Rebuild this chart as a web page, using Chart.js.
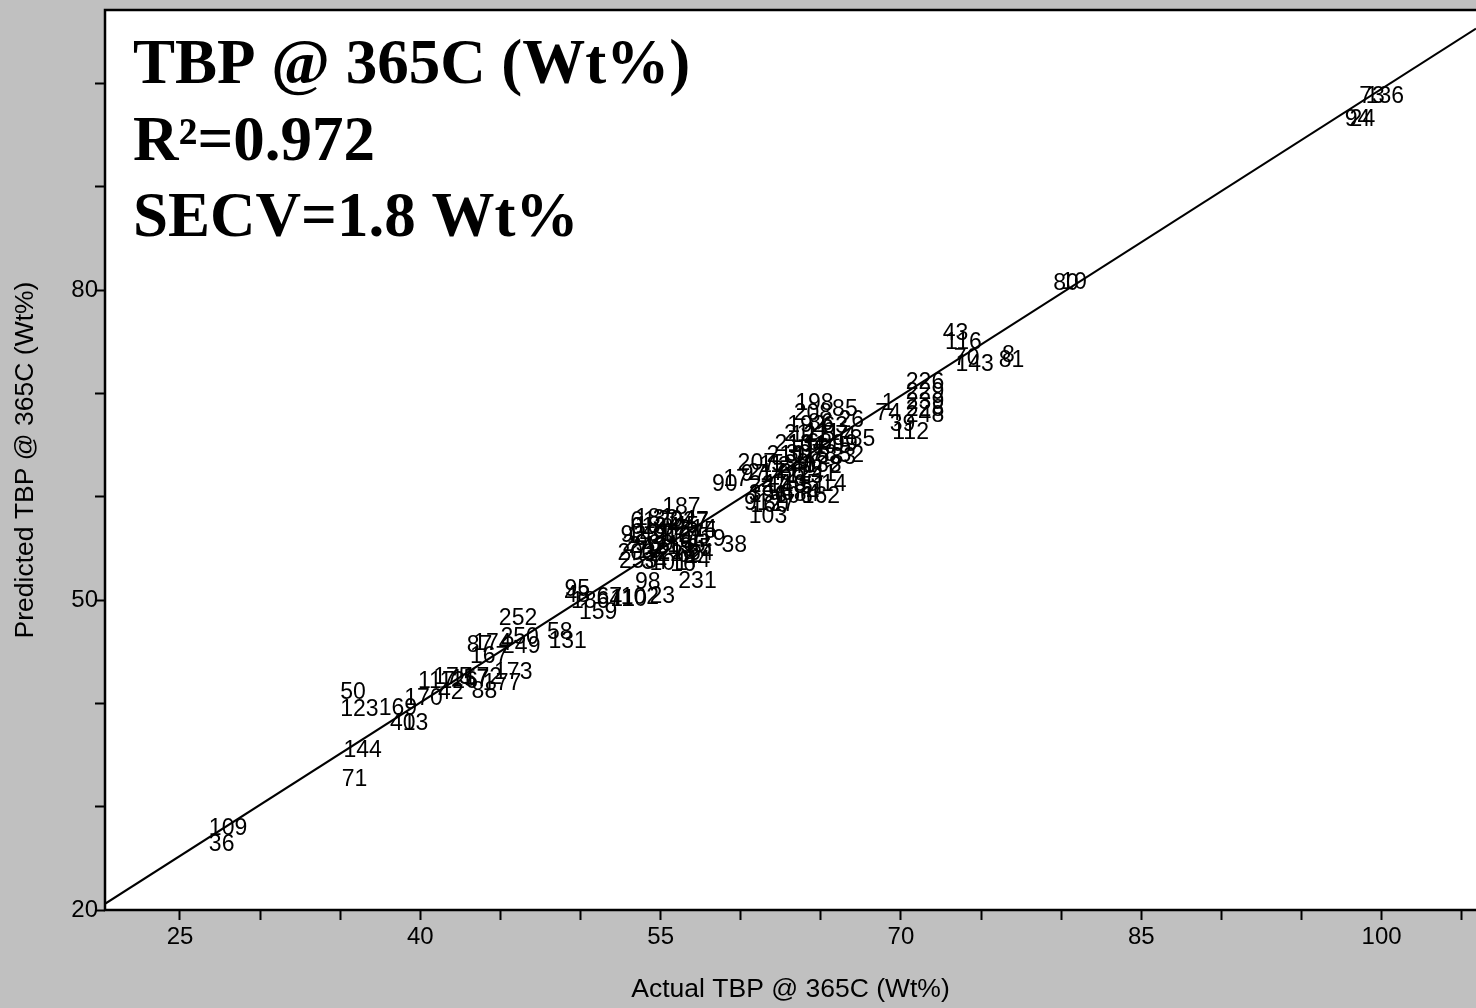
<!DOCTYPE html>
<html>
<head>
<meta charset="utf-8">
<title>TBP @ 365C</title>
<script src="https://cdn.jsdelivr.net/npm/chart.js@4.4.1/dist/chart.umd.min.js"></script>
<style>
  html, body { margin: 0; padding: 0; background: #c0c0c0; }
  #wrap { width: 1476px; height: 1008px; }
</style>
</head>
<body>
<div id="wrap"><canvas id="chart" width="1476" height="1008"></canvas></div>
<script>
// sample numbers, actual (lab) and predicted (cross-validated) TBP @ 365C, Wt%
const SAMPLE_IDS = [
  "109", "36", "71", "144", "50", "123", "169", "40", "13",
  "170", "42", "117", "175", "126", "157", "172", "173", "177", "88", "167", "87", "174", "249", "250", "252", "58", "131",
  "95", "48", "186", "67", "159", "41", "110", "102", "23", "98", "231", "38", "187",
  "61", "181", "33", "204", "227", "7",
  "6", "18", "134", "82", "45", "214", "5",
  "92", "149", "31", "200", "127", "75", "119",
  "29", "242", "60", "219", "155", "65",
  "203", "19", "122", "218", "62", "64",
  "253", "34", "101", "16", "44",
  "103", "162", "14", "90", "17", "198", "208", "85", "26", "35", "52",
  "192", "86", "63",
  "21", "121", "111", "57", "4",
  "213", "104", "68", "145", "99",
  "210", "30", "115", "78", "233",
  "207", "11", "53", "240", "96", "138", "2",
  "97", "217", "142", "66", "113", "241",
  "22", "47", "148", "105", "51",
  "3", "196", "56", "106", "84",
  "91", "160", "27",
  "1", "74", "39", "112", "226", "229", "239", "228", "248",
  "43", "116", "70", "143", "8", "81", "80", "10", "73", "136", "94", "24"
]
const ACTUAL = [
  28.0, 27.6, 35.9, 36.4, 35.8, 36.2, 38.6, 38.9, 39.7,
  40.2, 41.9, 41.0, 42.0, 42.4, 43.1, 43.9, 45.8, 45.1, 44.0, 44.3, 43.7, 44.5, 46.3, 46.2, 46.1, 48.7, 49.2,
  49.8, 49.8, 50.6, 51.8, 51.1, 52.6, 53.0, 53.7, 55.1, 54.2, 57.3, 59.6, 56.3,
  53.9, 54.6, 55.3, 56.0, 56.8, 57.6,
  53.5, 54.2, 55.0, 55.8, 56.6, 57.3, 58.1,
  53.3, 54.1, 54.9, 55.7, 56.5, 57.3, 57.9,
  53.4, 54.2, 55.0, 55.8, 56.6, 57.4,
  53.5, 54.3, 55.2, 56.0, 56.8, 57.5,
  53.6, 54.6, 55.5, 56.4, 57.3,
  61.7, 65.0, 65.8, 59.0, 59.7, 64.6, 64.5, 66.5, 66.9, 67.6, 66.9,
  64.1, 65.0, 65.9,
  63.5, 64.3, 65.1, 65.9, 66.8,
  63.3, 64.1, 64.9, 65.7, 66.5,
  62.8, 63.6, 64.4, 65.2, 66.0,
  61.0, 61.9, 62.7, 63.5, 64.3, 65.1, 65.9,
  60.8, 61.6, 62.4, 63.2, 64.0, 64.8,
  61.3, 62.1, 62.9, 63.7, 64.5,
  60.9, 61.7, 62.5, 63.3, 64.1,
  61.0, 61.8, 62.6,
  69.2, 69.2, 70.1, 70.6, 71.5, 71.5, 71.5, 71.5, 71.5,
  73.4, 73.9, 74.1, 74.6, 76.7, 76.9, 80.3, 80.8, 99.4, 100.2, 98.5, 98.8
]
const PREDICTED = [
  27.9, 26.3, 32.6, 35.4, 41.0, 39.4, 39.5, 38.0, 38.0,
  40.5, 41.0, 42.1, 42.5, 42.1, 42.3, 42.5, 43.0, 41.9, 41.1, 44.5, 45.6, 45.8, 45.5, 46.4, 48.2, 46.8, 46.0,
  51.0, 50.4, 49.8, 50.2, 48.8, 50.0, 50.0, 50.2, 50.3, 51.7, 51.8, 55.3, 58.9,
  57.6, 57.9, 57.8, 57.7, 57.6, 57.5,
  57.0, 57.1, 57.0, 56.9, 57.1, 56.8, 56.6,
  56.2, 56.1, 56.3, 56.0, 56.2, 56.0, 55.8,
  55.4, 55.2, 55.4, 55.1, 55.3, 55.0,
  54.5, 54.7, 54.4, 54.6, 54.3, 54.5,
  53.7, 53.6, 53.5, 53.4, 53.8,
  58.1, 60.0, 61.2, 61.2, 61.6, 69.0, 68.0, 68.4, 67.4, 65.5, 64.0,
  66.9, 67.1, 66.8,
  66.0, 65.9, 66.1, 65.9, 65.8,
  65.0, 64.9, 65.1, 64.8, 65.0,
  64.0, 64.1, 63.9, 64.1, 63.8,
  63.2, 63.0, 63.1, 62.9, 63.2, 63.0, 62.9,
  62.1, 62.2, 62.0, 62.2, 61.9, 62.1,
  61.1, 61.2, 61.0, 61.2, 61.0,
  60.2, 60.1, 60.3, 60.0, 60.2,
  59.3, 59.1, 59.2,
  69.0, 68.0, 67.0, 66.2, 71.0, 70.1, 69.1, 68.4, 67.8,
  75.8, 74.9, 73.4, 72.8, 73.6, 73.2, 80.6, 80.7, 98.7, 98.7, 96.5, 96.5
]

// regression line ends
const FIT_X = [20.32, 105.89]
const FIT_Y = [20.6, 105.3]

const X_TICKS = [25, 30, 35, 40, 45, 50, 55, 60, 65, 70, 75, 80, 85, 90, 95, 100, 105]
const X_LABELS = [25, 40, 55, 70, 85, 100]
const Y_TICKS = [20, 30, 40, 50, 60, 70, 80, 90, 100]
const Y_LABELS = [20, 50, 80]

const TITLE_LINES = ["TBP @ 365C (Wt%)", "R\u00b2=0.972", "SECV=1.8 Wt%"]

const SANS = "'Liberation Sans', Arial, sans-serif"

const points = SAMPLE_IDS.map((id, i) => ({ x: ACTUAL[i], y: PREDICTED[i] }))
const fitLine = FIT_X.map((x, i) => ({ x: x, y: FIT_Y[i] }))

// white plot area
const plotBackground = {
  id: "plotBackground",
  beforeDraw(chart) {
    const { ctx, chartArea: a } = chart
    ctx.save()
    ctx.fillStyle = "#ffffff"
    ctx.fillRect(a.left, a.top, a.right - a.left, a.bottom - a.top)
    ctx.restore()
  },
}

// sample numbers drawn where the points are
const sampleLabels = {
  id: "sampleLabels",
  afterDatasetsDraw(chart) {
    const { ctx } = chart
    const meta = chart.getDatasetMeta(1)
    ctx.save()
    ctx.font = "23px " + SANS
    ctx.fillStyle = "#000"
    ctx.textAlign = "center"
    ctx.textBaseline = "middle"
    meta.data.forEach((pt, i) => {
      ctx.fillText(SAMPLE_IDS[i], pt.x, pt.y)
    })
    ctx.restore()
  },
}

// frame and the statistics text
const frameAndTitle = {
  id: "frameAndTitle",
  afterDraw(chart) {
    const { ctx, chartArea: a } = chart
    ctx.save()
    ctx.strokeStyle = "#000"
    ctx.lineWidth = 2.5
    ctx.beginPath()
    ctx.moveTo(a.right + 2, a.top)
    ctx.lineTo(a.left, a.top)
    ctx.lineTo(a.left, a.bottom)
    ctx.lineTo(a.right + 2, a.bottom)
    ctx.stroke()

    ctx.font = "bold 63px 'Liberation Serif', 'Times New Roman', serif"
    ctx.fillStyle = "#000"
    ctx.textAlign = "left"
    ctx.textBaseline = "alphabetic"
    const baselines = [83, 160, 236]
    TITLE_LINES.forEach((t, i) => ctx.fillText(t, a.left + 28, baselines[i]))
    ctx.restore()
  },
}

new Chart(document.getElementById("chart"), {
  data: {
    datasets: [
      {
        type: "line",
        data: fitLine,
        borderColor: "#000",
        borderWidth: 2,
        pointRadius: 0,
        fill: false,
      },
      {
        type: "scatter",
        data: points,
        pointRadius: 0,
        pointHoverRadius: 0,
      },
    ],
  },
  options: {
    responsive: false,
    animation: false,
    events: [],
    layout: { padding: { top: 10, right: 0, left: 0, bottom: 0 } },
    plugins: {
      legend: { display: false },
      tooltip: { enabled: false },
    },
    scales: {
      x: {
        type: "linear",
        min: 20.32,
        max: 105.89,
        afterBuildTicks: (scale) => {
          scale.ticks = X_TICKS.map((v) => ({ value: v }))
        },
        afterFit: (scale) => {
          scale.height = 98
          scale.paddingLeft = 0
          scale.paddingRight = 0
        },
        ticks: {
          autoSkip: false,
          maxRotation: 0,
          padding: 3,
          color: "#000",
          font: { family: SANS, size: 24 },
          callback: (v) => (X_LABELS.includes(v) ? String(v) : ""),
        },
        grid: {
          drawOnChartArea: false,
          drawTicks: true,
          tickLength: 10,
          tickWidth: 2,
          tickColor: "#000",
        },
        border: { display: false },
        title: {
          display: true,
          text: "Actual TBP @ 365C (Wt%)",
          color: "#000",
          font: { family: SANS, size: 26.5 },
          padding: { top: 0, bottom: 2 },
        },
      },
      y: {
        type: "linear",
        min: 20,
        max: 107.1,
        afterBuildTicks: (scale) => {
          scale.ticks = Y_TICKS.map((v) => ({ value: v }))
        },
        afterFit: (scale) => {
          scale.width = 105
          scale.paddingTop = 0
          scale.paddingBottom = 0
        },
        ticks: {
          autoSkip: false,
          padding: -3,
          color: "#000",
          font: { family: SANS, size: 24 },
          callback: (v) => (Y_LABELS.includes(v) ? String(v) : ""),
        },
        grid: {
          drawOnChartArea: false,
          drawTicks: true,
          tickLength: 10,
          tickWidth: 2,
          tickColor: "#000",
        },
        border: { display: false },
        title: {
          display: true,
          text: "Predicted TBP @ 365C (Wt%)",
          color: "#000",
          font: { family: SANS, size: 26.5 },
          padding: { top: 10, bottom: 0 },
        },
      },
    },
  },
  plugins: [plotBackground, sampleLabels, frameAndTitle],
})
</script>
</body>
</html>
